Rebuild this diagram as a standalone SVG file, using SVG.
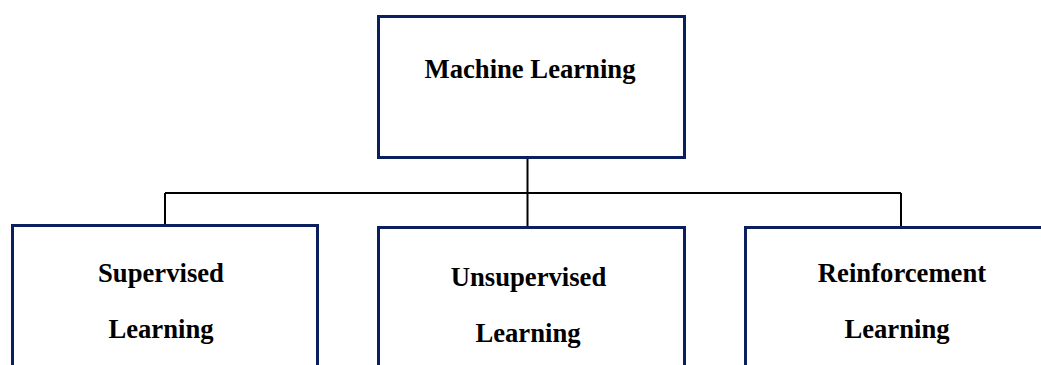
<svg xmlns="http://www.w3.org/2000/svg" width="1041" height="365" viewBox="0 0 1041 365">
<style>
.box{fill:#ffffff;stroke:#0a1f5e;stroke-width:3}
.con{fill:none;stroke:#000000;stroke-width:2}
.lbl{font-family:"Liberation Serif","Times New Roman",serif;font-weight:bold;font-size:26.67px;fill:#000000;text-anchor:middle}
</style>
<rect width="1041" height="365" fill="#ffffff"/>
<g id="connectors">
<path class="con" d="M527.5 155 V227.5"/>
<path class="con" d="M165 193 H901"/>
<path class="con" d="M165 193 V225"/>
<path class="con" d="M901 193 V227.5"/>
</g>
<g id="machine-learning">
<rect class="box" x="378.5" y="16.5" width="306" height="141"/>
<text class="lbl" x="530" y="78">Machine Learning</text>
</g>
<g id="supervised">
<rect class="box" x="12.5" y="225.5" width="305" height="160"/>
<text class="lbl" x="161" y="282">Supervised</text>
<text class="lbl" x="161" y="338">Learning</text>
</g>
<g id="unsupervised">
<rect class="box" x="378.5" y="227.5" width="306" height="160"/>
<text class="lbl" x="528.5" y="286">Unsupervised</text>
<text class="lbl" x="528" y="342">Learning</text>
</g>
<g id="reinforcement">
<rect class="box" x="745.5" y="227.5" width="306" height="160"/>
<text class="lbl" x="902" y="282">Reinforcement</text>
<text class="lbl" x="897" y="338">Learning</text>
</g>
</svg>
